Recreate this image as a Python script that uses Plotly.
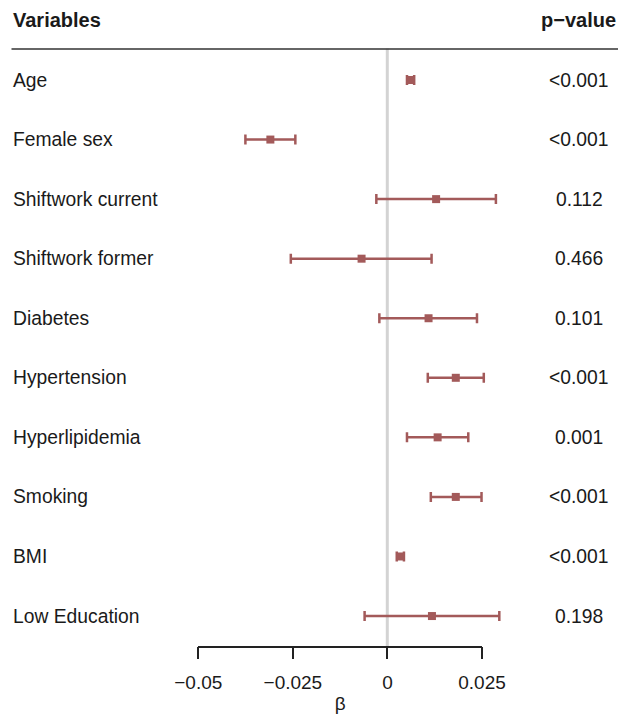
import plotly.graph_objects as go

variables = ["Age", "Female sex", "Shiftwork current", "Shiftwork former", "Diabetes",
             "Hypertension", "Hyperlipidemia", "Smoking", "BMI", "Low Education"]
beta = [0.0061, -0.0309, 0.0129, -0.0068, 0.0109, 0.0181, 0.0133, 0.0181, 0.0035, 0.0118]
ci_low = [0.0052, -0.0375, -0.0029, -0.0255, -0.0021, 0.0107, 0.0052, 0.0115, 0.0025, -0.0060]
ci_high = [0.0071, -0.0243, 0.0287, 0.0117, 0.0237, 0.0255, 0.0214, 0.0249, 0.0044, 0.0296]
p_values = ["<0.001", "<0.001", "0.112", "0.466", "0.101", "<0.001", "0.001", "<0.001", "<0.001", "0.198"]
tick_vals = [-0.05, -0.025, 0, 0.025]
tick_text = ["\u22120.05", "\u22120.025", "0", "0.025"]

W, H = 620, 714
COLOR = "#a35a5a"
TXT = "#1a1a1a"
FONT = "Liberation Sans, Arial, Helvetica, sans-serif"

# pixel geometry of the panel
zero_px = 387.3
px_per_unit = 94.6 / 0.025
row0_px, row_step = 80.0, 59.56

fig = go.Figure()

# invisible trace carrying the bottom beta axis
fig.add_trace(go.Scatter(
    x=[tick_vals[0], tick_vals[-1]], y=[variables[0], variables[0]],
    xaxis="x2", mode="markers", marker=dict(opacity=0),
    hoverinfo="skip", showlegend=False,
))

fig.add_trace(go.Scatter(
    x=beta, y=variables, mode="markers",
    marker=dict(symbol="square", size=8, color=COLOR),
    error_x=dict(type="data", symmetric=False,
                 array=[h - b for h, b in zip(ci_high, beta)],
                 arrayminus=[b - l for l, b in zip(ci_low, beta)],
                 color=COLOR, thickness=2.5, width=5),
    hoverinfo="skip", showlegend=False, cliponaxis=False,
))

x_lo = -zero_px / px_per_unit
x_hi = (W - zero_px) / px_per_unit
y_top = -row0_px / row_step
y_bot = (H - row0_px) / row_step

axis_y_px = 646.5
fig.update_layout(
    width=W, height=H,
    margin=dict(l=0, r=0, t=0, b=0, autoexpand=False),
    paper_bgcolor="white", plot_bgcolor="rgba(0,0,0,0)",
    font=dict(family=FONT, color=TXT, size=19.3),
    xaxis=dict(domain=[0, 1], range=[x_lo, x_hi], visible=False, fixedrange=True,
               automargin=False),
    yaxis=dict(type="category", categoryarray=variables, range=[y_bot, y_top],
               visible=False, fixedrange=True, automargin=False),
    xaxis2=dict(domain=[198.3 / W, 482.0 / W], range=[tick_vals[0], tick_vals[-1]],
                anchor="free", position=1 - axis_y_px / H, automargin=False,
                showline=True, linecolor="#222222", linewidth=1.5,
                ticks="outside", ticklen=12, tickwidth=1.5, tickcolor="#222222",
                tickvals=tick_vals, ticktext=tick_text, ticklabelstandoff=7,
                tickfont=dict(size=19, color=TXT, family=FONT),
                showgrid=False, zeroline=False,
                title=dict(text="\u03b2", standoff=13, font=dict(size=19, color=TXT, family=FONT)),
                fixedrange=True),
)

shapes = [
    # zero reference line
    dict(type="line", xref="x", yref="paper", x0=0, x1=0,
         y0=1 - axis_y_px / H, y1=1 - 48.5 / H,
         line=dict(color="#d3d3d3", width=3), layer="below"),
    # header rule
    dict(type="line", xref="paper", yref="paper", x0=11.5 / W, x1=618 / W,
         y0=1 - 49 / H, y1=1 - 49 / H, line=dict(color="#333333", width=1.5)),
]
fig.update_layout(shapes=shapes)

ann = [
    dict(text="<b>Variables</b>", xref="paper", yref="paper", x=11 / W, y=1 - 20 / H,
         xanchor="left", yanchor="middle", showarrow=False, font=dict(size=20)),
    dict(text="<b>p\u2212value</b>", xref="paper", yref="paper", x=617.5 / W, y=1 - 20 / H,
         xanchor="right", yanchor="middle", showarrow=False, font=dict(size=20)),
]
for v, p in zip(variables, p_values):
    ann.append(dict(text=v, xref="paper", yref="y", x=11 / W, y=v,
                    xanchor="left", yanchor="middle", showarrow=False))
    ann.append(dict(text=p, xref="paper", yref="y", x=579 / W, y=v,
                    xanchor="center", yanchor="middle", showarrow=False))
fig.update_layout(annotations=ann)

fig.write_html("out.html", config={"displayModeBar": False},
               post_script="document.body.style.margin='0';")
